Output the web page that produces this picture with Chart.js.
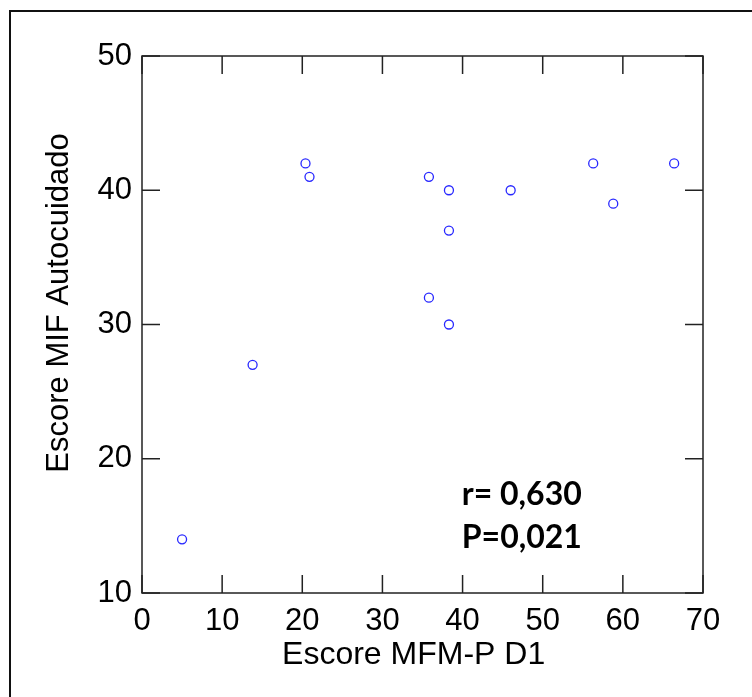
<!DOCTYPE html>
<html>
<head>
<meta charset="utf-8">
<script src="https://cdn.jsdelivr.net/npm/chart.js@4.4.1/dist/chart.umd.min.js"></script>
<style>
  html, body { margin: 0; padding: 0; background: #fff; }
  canvas { display: block; }
</style>
</head>
<body>
<canvas id="chart1" width="752" height="697"></canvas>
<script>
// data
const mfmScores = [5, 13.8, 20.4, 20.9, 35.8, 35.8, 38.3, 38.3, 38.3, 46, 56.3, 58.8, 66.4];
const mifScores = [14, 27, 42, 41, 41, 32, 40, 37, 30, 40, 42, 39, 42];
const xTicks = [0, 10, 20, 30, 40, 50, 60, 70];
const yTicks = [10, 20, 30, 40, 50];
const statLines = ["r= 0,630", "P=0,021"];

const points = mfmScores.map((x, k) => ({ x: x, y: mifScores[k] }));
const axisFont = { family: "'Liberation Sans', Arial, sans-serif", size: 31 };

// outer frame, plot box and inward ticks on all four sides
const framePlugin = {
  id: 'frame',
  beforeDraw(chart) {
    const c = chart.ctx;
    c.save();
    c.strokeStyle = '#111';
    c.lineWidth = 2;
    c.strokeRect(10, 11, 900, 900);
    c.restore();
  },
  afterDatasetsDraw(chart) {
    const { ctx: c, chartArea: a, scales } = chart;
    const len = 18;
    c.save();
    c.strokeStyle = '#222';
    c.lineWidth = 1.5;
    c.strokeRect(a.left, a.top, a.right - a.left, a.bottom - a.top);
    c.beginPath();
    xTicks.forEach(v => {
      const px = scales.x.getPixelForValue(v);
      c.moveTo(px, a.bottom); c.lineTo(px, a.bottom - len);
      c.moveTo(px, a.top); c.lineTo(px, a.top + len);
    });
    yTicks.forEach(v => {
      const py = scales.y.getPixelForValue(v);
      c.moveTo(a.left, py); c.lineTo(a.left + len, py);
      c.moveTo(a.right, py); c.lineTo(a.right - len, py);
    });
    c.stroke();

    // correlation text
    c.fillStyle = '#000';
    c.font = "bold 32px Lato, 'Open Sans', sans-serif";
    c.textAlign = 'left';
    c.textBaseline = 'alphabetic';
    const tx = scales.x.getPixelForValue(39.9);
    c.fillText(statLines[0], tx, scales.y.getPixelForValue(16.55));
    c.fillText(statLines[1], tx, scales.y.getPixelForValue(13.35));
    c.restore();
  }
};

new Chart(document.getElementById('chart1'), {
  type: 'scatter',
  data: {
    datasets: [{
      data: points,
      pointStyle: 'circle',
      pointRadius: 4.5,
      pointBorderWidth: 1.3,
      borderColor: 'rgb(40,40,255)',
      backgroundColor: 'rgba(255,255,255,0)'
    }]
  },
  options: {
    responsive: false,
    animation: false,
    layout: { padding: { top: 56, right: 49, left: 0, bottom: 0 } },
    plugins: { legend: { display: false }, tooltip: { enabled: false } },
    scales: {
      x: {
        type: 'linear',
        min: 0, max: 70,
        afterFit: s => { s.height = 104; },
        afterBuildTicks: s => { s.ticks = xTicks.map(v => ({ value: v })); },
        grid: { display: false, drawTicks: false },
        border: { display: false },
        ticks: { color: '#000', font: axisFont, padding: 10, maxRotation: 0, autoSkip: false },
        // trailing spaces nudge the title a little left, as in the source
        title: { display: true, text: 'Escore MFM-P D1  ', color: '#000',
                 font: { family: axisFont.family, size: 32 }, padding: { bottom: 23 } }
      },
      y: {
        type: 'linear',
        min: 10, max: 50,
        afterFit: s => { s.width = 142; },
        afterBuildTicks: s => { s.ticks = yTicks.map(v => ({ value: v })); },
        grid: { display: false, drawTicks: false },
        border: { display: false },
        ticks: { color: '#000', font: axisFont, padding: 10, autoSkip: false },
        title: { display: true, text: '     Escore MIF Autocuidado', color: '#000', font: axisFont, padding: { top: 41 } }
      }
    }
  },
  plugins: [framePlugin]
});
</script>
</body>
</html>
